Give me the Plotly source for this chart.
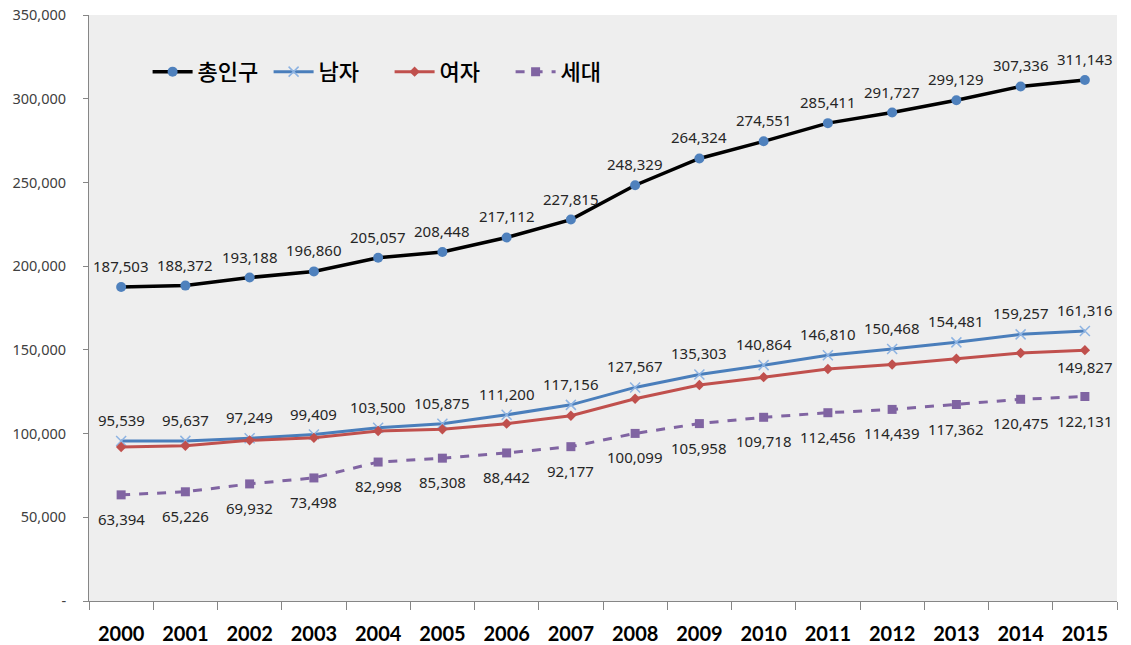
import plotly.graph_objects as go

years = ["2000", "2001", "2002", "2003", "2004", "2005", "2006", "2007",
         "2008", "2009", "2010", "2011", "2012", "2013", "2014", "2015"]
total = [187503, 188372, 193188, 196860, 205057, 208448, 217112, 227815,
         248329, 264324, 274551, 285411, 291727, 299129, 307336, 311143]
male = [95539, 95637, 97249, 99409, 103500, 105875, 111200, 117156,
        127567, 135303, 140864, 146810, 150468, 154481, 159257, 161316]
female = [91964, 92735, 95939, 97451, 101557, 102573, 105912, 110659,
          120762, 129021, 133687, 138601, 141259, 144648, 148079, 149827]
household = [63394, 65226, 69932, 73498, 82998, 85308, 88442, 92177,
             100099, 105958, 109718, 112456, 114439, 117362, 120475, 122131]
names = ["총인구", "남자", "여자", "세대"]
y_ticks = [0, 50000, 100000, 150000, 200000, 250000, 300000, 350000]
y_tick_labels = ["-", "50,000", "100,000", "150,000", "200,000", "250,000", "300,000", "350,000"]

def fmt(v):
    return f"{v:,}"

label_font = dict(family="Noto Sans, Liberation Sans, sans-serif", size=15, color="#262626")

fig = go.Figure()
fig.add_trace(go.Scatter(
    x=years, y=total, name=names[0], mode="lines+markers",
    line=dict(color="#000000", width=3.5),
    marker=dict(symbol="circle", size=10, color="#4F81BD"),
))
fig.add_trace(go.Scatter(
    x=years, y=male, name=names[1], mode="lines+markers",
    line=dict(color="#4A7EBB", width=3),
    marker=dict(symbol="x-thin", size=10, color="#8DB3E2",
                line=dict(color="#8DB3E2", width=1.5)),
))
fig.add_trace(go.Scatter(
    x=years, y=female, name=names[2], mode="lines+markers",
    line=dict(color="#C0504D", width=3),
    marker=dict(symbol="diamond", size=8, color="#C0504D"),
))
fig.add_trace(go.Scatter(
    x=years, y=household, name=names[3], mode="lines+markers",
    line=dict(color="#8064A2", width=3, dash="dash"),
    marker=dict(symbol="square", size=9, color="#8064A2"),
))

# data labels, placed at the data points (category index on the x axis) and shifted in pixels
annotations = []
for series, shift in ((total, 21), (male, 21), (household, -24)):
    for i, v in enumerate(series):
        annotations.append(dict(x=i, xref="x", y=v, yref="y", text=fmt(v), showarrow=False,
                                yshift=shift, yanchor="middle", font=label_font))
annotations.append(dict(x=len(years) - 1, xref="x", y=female[-1], yref="y",
                        text=fmt(female[-1]), showarrow=False,
                        yshift=-17, yanchor="middle", font=label_font))

fig.update_layout(
    width=1131, height=645,
    margin=dict(l=89, r=14, t=15, b=44),
    paper_bgcolor="#FFFFFF",
    plot_bgcolor="#EEEEEE",
    showlegend=True,
    annotations=annotations,
    legend=dict(
        orientation="h", x=0.057, y=0.903, xanchor="left", yanchor="middle",
        bgcolor="rgba(0,0,0,0)",
        font=dict(family="Noto Sans CJK KR, sans-serif", size=22, color="#000000", weight=500),
        itemwidth=40, entrywidth=66, entrywidthmode="pixels",
    ),
    xaxis=dict(
        type="category", range=[-0.5, 15.5], automargin=False,
        showgrid=False, zeroline=False,
        showline=True, linecolor="#868686", linewidth=1,
        ticks="outside", tickson="boundaries", ticklen=8, tickcolor="#868686",
        tickfont=dict(family="Lato, sans-serif", size=20, color="#000000", weight="bold"),
        ticklabelstandoff=15,
    ),
    yaxis=dict(
        range=[0, 350000], tickvals=y_ticks, ticktext=y_tick_labels, automargin=False,
        showgrid=False, zeroline=False,
        showline=True, linecolor="#868686", linewidth=1,
        ticks="outside", ticklen=5, tickcolor="#868686",
        tickfont=dict(family="Noto Sans, sans-serif", size=14.5, color="#404040"),
        ticklabelstandoff=14, ticklabeloverflow="allow",
    ),
)

# remove the browser's default 8px body margin so the figure fills the window exactly
fig.write_html("out.html", config={"displayModeBar": False},
               post_script="document.body.style.margin='0px';")
